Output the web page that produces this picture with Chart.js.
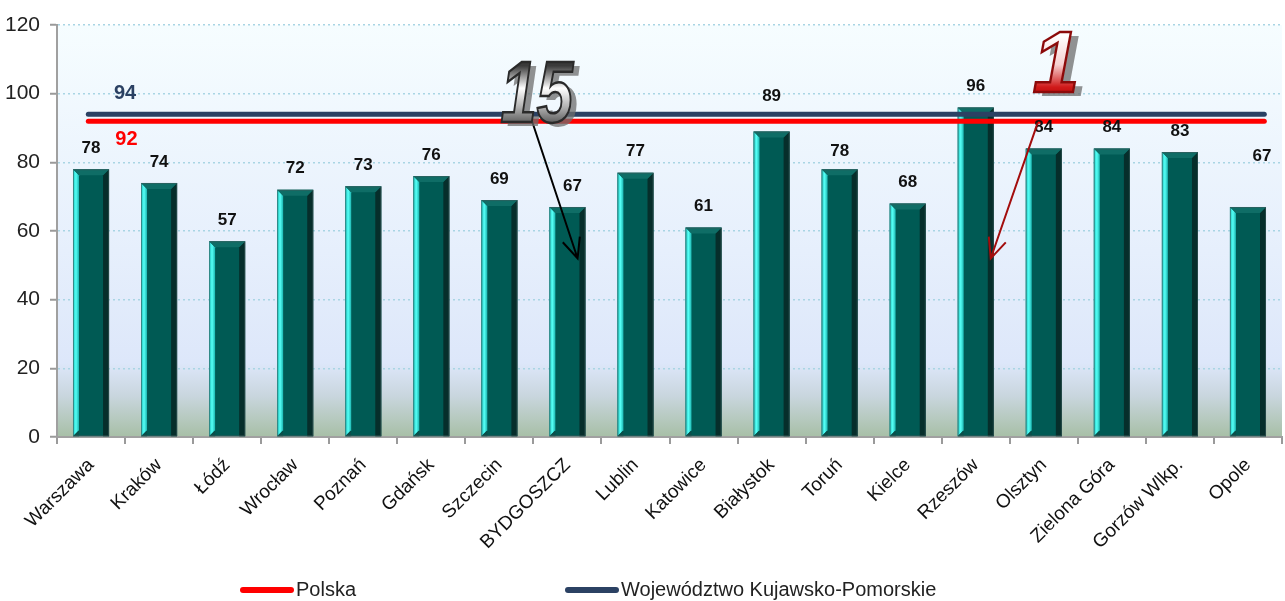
<!DOCTYPE html>
<html lang="pl">
<head>
<meta charset="utf-8">
<title>Wskaźnik – miasta wojewódzkie</title>
<script src="https://cdn.jsdelivr.net/npm/chart.js@4.4.1/dist/chart.umd.min.js"></script>
<style>
  html, body { margin: 0; padding: 0; background: #fff; }
  #wrap { position: relative; width: 1285px; height: 601px; overflow: hidden; }
  #legend { position: absolute; left: 0; top: 0; width: 100%; height: 100%; pointer-events: none;
            font-family: "Liberation Sans Narrow", "Liberation Sans", Arial, sans-serif; }
  .item { position: absolute; top: 578px; display: flex; align-items: center; font-size: 20px; color: #222; }
  .swatch { width: 54px; height: 6px; border-radius: 3px; margin-right: 2px; }
</style>
</head>
<body>
<div id="wrap">
  <canvas id="chart" width="1285" height="601"></canvas>
  <div id="legend"></div>
</div>
<script>
// dane z wykresu
const cities = ["Warszawa", "Kraków", "Łódź", "Wrocław", "Poznań", "Gdańsk", "Szczecin", "BYDGOSZCZ",
  "Lublin", "Katowice", "Białystok", "Toruń", "Kielce", "Rzeszów", "Olsztyn", "Zielona Góra",
  "Gorzów Wlkp.", "Opole"];
const values = [78, 74, 57, 72, 73, 76, 69, 67, 77, 61, 89, 78, 68, 96, 84, 84, 83, 67];
const polskaLevel = 92;
const wojLevel = 94;
const yTicks = [0, 20, 40, 60, 80, 100, 120];
// zasięg linii poziomych (w jednostkach kategorii)
const lineFrom = -0.04;
const lineTo = 17.24;
// ręczne przesunięcia etykiet (jak w oryginale)
const labelNudge = { "Białystok": [0, 14], "Opole": [14, 30], "BYDGOSZCZ": [5, 0], "Toruń": [0, -3] };

const FONT = '"Liberation Sans Narrow", "Liberation Sans", Arial, sans-serif';
const BAR_COLOR = "#005a54";
const RED = "#ff0000";
const NAVY = "#2b4163";

// tło obszaru wykresu
const backgroundPlugin = {
  id: "plotBg",
  beforeDraw(chart) {
    const { ctx, chartArea: a } = chart;
    const g = ctx.createLinearGradient(0, a.top, 0, a.bottom);
    g.addColorStop(0, "#f6fdff");
    g.addColorStop(0.55, "#e6effc");
    g.addColorStop(0.82, "#dde7fa");
    g.addColorStop(0.9, "#c9d6de");
    g.addColorStop(1, "#a7bfa6");
    ctx.save();
    ctx.fillStyle = g;
    ctx.fillRect(a.left, a.top, a.right - a.left, a.bottom - a.top);
    ctx.restore();
  }
};

// efekt fazowania słupków
const bevelPlugin = {
  id: "bevel",
  afterDatasetDraw(chart, args) {
    if (args.index !== 0) return;
    const ctx = chart.ctx;
    args.meta.data.forEach(bar => {
      const { x, y, base, width } = bar.getProps(["x", "y", "base", "width"], true);
      const L = x - width / 2, R = x + width / 2, e = 6;
      ctx.save();
      // lewa krawędź
      const lg = ctx.createLinearGradient(L, 0, L + e, 0);
      lg.addColorStop(0, "#1fc9c4");
      lg.addColorStop(0.5, "#55fff5");
      lg.addColorStop(1, "#1bb5b0");
      ctx.fillStyle = lg;
      ctx.beginPath();
      ctx.moveTo(L, y); ctx.lineTo(L + e, y + e); ctx.lineTo(L + e, base - e); ctx.lineTo(L, base);
      ctx.closePath(); ctx.fill();
      // prawa krawędź
      ctx.fillStyle = "#062e2b";
      ctx.beginPath();
      ctx.moveTo(R, y); ctx.lineTo(R - e, y + e); ctx.lineTo(R - e, base); ctx.lineTo(R, base);
      ctx.closePath(); ctx.fill();
      // góra
      ctx.fillStyle = "#0f6d66";
      ctx.beginPath();
      ctx.moveTo(L, y); ctx.lineTo(R, y); ctx.lineTo(R - e, y + e); ctx.lineTo(L + e, y + e);
      ctx.closePath(); ctx.fill();
      // dół lewy
      ctx.fillStyle = "#0a4f4a";
      ctx.beginPath();
      ctx.moveTo(L, base); ctx.lineTo(L + e, base - e); ctx.lineTo(L + e, base);
      ctx.closePath(); ctx.fill();
      ctx.strokeStyle = "rgba(60,90,90,0.6)";
      ctx.lineWidth = 1;
      ctx.strokeRect(L + 0.5, y + 0.5, width - 1, base - y - 1);
      ctx.restore();
    });
  }
};

// etykiety wartości
const labelsPlugin = {
  id: "valueLabels",
  afterDatasetsDraw(chart) {
    const { ctx, scales } = chart;
    const meta = chart.getDatasetMeta(0);
    ctx.save();
    ctx.textAlign = "center";
    ctx.textBaseline = "middle";
    ctx.font = "bold 17px " + FONT;
    ctx.fillStyle = "#111";
    meta.data.forEach((bar, i) => {
      const n = labelNudge[cities[i]] || [0, 0];
      ctx.fillText(String(values[i]), bar.x + n[0], bar.y - 21 - n[1]);
    });
    const xl = scales.xl;
    ctx.font = "bold 20px " + FONT;
    ctx.fillStyle = NAVY;
    ctx.fillText(String(wojLevel), xl.getPixelForValue(0.5), scales.y.getPixelForValue(wojLevel) - 21);
    ctx.fillStyle = RED;
    ctx.fillText(String(polskaLevel), xl.getPixelForValue(0.52), scales.y.getPixelForValue(polskaLevel) + 18);
    ctx.restore();
  }
};

function drawArrow(ctx, x1, y1, x2, y2, color) {
  const ang = Math.atan2(y2 - y1, x2 - x1);
  const head = 22, spread = 0.42;
  ctx.save();
  ctx.strokeStyle = color;
  ctx.lineWidth = 2;
  ctx.beginPath();
  ctx.moveTo(x1, y1); ctx.lineTo(x2, y2);
  ctx.moveTo(x2 - head * Math.cos(ang - spread), y2 - head * Math.sin(ang - spread));
  ctx.lineTo(x2, y2);
  ctx.lineTo(x2 - head * Math.cos(ang + spread), y2 - head * Math.sin(ang + spread));
  ctx.stroke();
  ctx.restore();
}

function drawBigNumber(ctx, text, cx, cy, sx, stops, outline) {
  ctx.save();
  ctx.translate(cx, cy);
  ctx.scale(sx, 1);
  ctx.font = "italic bold 88px " + FONT;
  ctx.textAlign = "center";
  ctx.textBaseline = "middle";
  ctx.fillStyle = "rgba(110,110,110,0.75)";
  ctx.fillText(text, 8, 4);
  const g = ctx.createLinearGradient(0, -32, 0, 32);
  stops.forEach(s => g.addColorStop(s[0], s[1]));
  ctx.fillStyle = g;
  ctx.fillText(text, 0, 0);
  ctx.lineWidth = 2.5;
  ctx.strokeStyle = outline;
  ctx.strokeText(text, 0, 0);
  ctx.restore();
}

// adnotacje "15" i "1"
const annotationPlugin = {
  id: "rankNotes",
  afterDraw(chart) {
    const { ctx, scales } = chart;
    const xl = scales.xl, y = scales.y;
    drawArrow(ctx, xl.getPixelForValue(6.45), y.getPixelForValue(93.8),
      xl.getPixelForValue(7.15), y.getPixelForValue(52), "#000");
    drawBigNumber(ctx, "15", xl.getPixelForValue(6.55), y.getPixelForValue(98.8), 0.74,
      [[0, "#3a3a3a"], [0.35, "#ffffff"], [0.65, "#b0b0b0"], [1, "#3a3a3a"]], "#2a2a2a");
    drawArrow(ctx, xl.getPixelForValue(13.91), y.getPixelForValue(91.5),
      xl.getPixelForValue(13.22), y.getPixelForValue(52), "#a30d0d");
    drawBigNumber(ctx, "1", xl.getPixelForValue(14.18), y.getPixelForValue(107.5), 0.95,
      [[0, "#ffffff"], [0.45, "#f6d0d0"], [0.8, "#d01a1a"], [1, "#b00000"]], "#8c0a0a");
  }
};

const ctx = document.getElementById("chart").getContext("2d");
new Chart(ctx, {
  data: {
    labels: cities,
    datasets: [
      {
        type: "bar",
        label: "Wartość",
        data: values,
        backgroundColor: BAR_COLOR,
        borderWidth: 0,
        grouped: false,
        barPercentage: 0.53,
        categoryPercentage: 1,
        order: 2
      },
      {
        type: "line",
        label: "Województwo Kujawsko-Pomorskie",
        data: [{ x: lineFrom, y: wojLevel }, { x: lineTo, y: wojLevel }],
        xAxisID: "xl",
        borderColor: NAVY,
        borderWidth: 5,
        borderCapStyle: "round",
        pointRadius: 0,
        order: 1
      },
      {
        type: "line",
        label: "Polska",
        data: [{ x: lineFrom, y: polskaLevel }, { x: lineTo, y: polskaLevel }],
        xAxisID: "xl",
        borderColor: RED,
        borderWidth: 5,
        borderCapStyle: "round",
        pointRadius: 0,
        order: 0
      }
    ]
  },
  options: {
    responsive: false,
    animation: false,
    layout: { padding: { top: 25, right: 3, bottom: 0, left: 0 } },
    plugins: {
      legend: { display: false },
      tooltip: { enabled: false }
    },
    scales: {
      x: {
        type: "category",
        offset: true,
        grid: {
          offset: true,
          drawOnChartArea: false,
          drawTicks: true,
          tickLength: 7,
          color: "#9a9a9a",
          lineWidth: 2
        },
        border: { color: "#a0a0a0", width: 2 },
        ticks: {
          minRotation: 45,
          maxRotation: 45,
          autoSkip: false,
          padding: 10,
          color: "#111",
          font: { family: FONT, size: 19 }
        },
        afterFit(scale) { scale.height = 164; }
      },
      xl: {
        type: "linear",
        display: false,
        min: -0.5,
        max: 17.5
      },
      y: {
        min: 0,
        max: 120,
        afterBuildTicks(scale) { scale.ticks = yTicks.map(v => ({ value: v })); },
        grid: {
          color: ctx2 => ctx2.tick && ctx2.tick.value === 0 ? "rgba(0,0,0,0)" : "#a9d5e4",
          lineWidth: 1.5,
          tickColor: "#9a9a9a",
          tickLength: 7,
          tickWidth: 2
        },
        border: { color: "#a0a0a0", width: 2, dash: [2, 3] },
        ticks: {
          padding: 10,
          color: "#222",
          font: { family: FONT, size: 21 }
        },
        afterFit(scale) { scale.width = 57; }
      }
    }
  },
  plugins: [backgroundPlugin, bevelPlugin, labelsPlugin, annotationPlugin]
});

// legenda (pod wykresem)
const legendItems = [
  { text: "Polska", color: RED, left: 240 },
  { text: "Województwo Kujawsko-Pomorskie", color: NAVY, left: 565 }
];
const legendEl = document.getElementById("legend");
legendItems.forEach(it => {
  const d = document.createElement("div");
  d.className = "item";
  d.style.left = it.left + "px";
  d.innerHTML = '<span class="swatch" style="background:' + it.color + '"></span><span>' + it.text + "</span>";
  legendEl.appendChild(d);
});
</script>
</body>
</html>
